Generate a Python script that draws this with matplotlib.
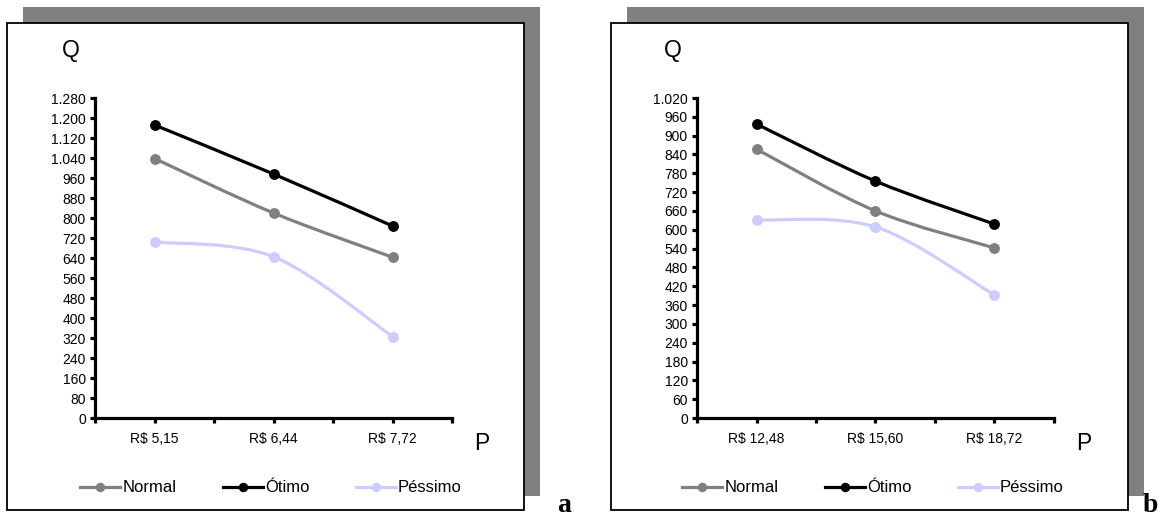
import numpy as np
import matplotlib
matplotlib.use("Agg")
import matplotlib.pyplot as plt
from matplotlib.path import Path
from matplotlib.patches import PathPatch, Rectangle
from matplotlib.lines import Line2D

plt.rcParams['font.family'] = ['Liberation Sans', 'DejaVu Sans']

# ---------------- data ----------------
series_names = ['Normal', 'Ótimo', 'Péssimo']

cats_a = ['R$ 5,15', 'R$ 6,44', 'R$ 7,72']
normal_a = [1038, 820, 643]
otimo_a = [1172, 976, 768]
pessimo_a = [704, 645, 326]
yticks_a = list(range(0, 1281, 80))

cats_b = ['R$ 12,48', 'R$ 15,60', 'R$ 18,72']
normal_b = [857, 660, 542]
otimo_b = [937, 755, 618]
pessimo_b = [631, 609, 392]
yticks_b = list(range(0, 1021, 60))

colors = ['#808080', '#000000', '#CCCCFF']

W, H = 1160, 518
fig = plt.figure(figsize=(W / 100, H / 100), dpi=100)


def fx(px):
    return px / W


def fy(py):
    return 1 - py / H


def smooth_path(xs, ys):
    """Excel-style smoothed line: cubic Bezier (Catmull-Rom, 1/6 tangents)."""
    pts = np.column_stack([xs, ys]).astype(float)
    n = len(pts)
    verts = [pts[0]]
    codes = [Path.MOVETO]
    for i in range(n - 1):
        p0 = pts[i - 1] if i > 0 else pts[i]
        p1 = pts[i]
        p2 = pts[i + 1]
        p3 = pts[i + 2] if i + 2 < n else pts[i + 1]
        c1 = p1 + (p2 - p0) / 6.0
        c2 = p2 - (p3 - p1) / 6.0
        verts += [c1, c2, p2]
        codes += [Path.CURVE4] * 3
    return Path(verts, codes)


def fmt(v):
    return f"{v:,}".replace(',', '.')


def panel(box_left, axis_left, cats, data, yticks, letter, letter_x):
    # shadow + white box
    box_top, box_bottom = 23, 510
    box_w = 517
    fig.patches.append(Rectangle((fx(box_left + 16), fy(box_bottom - 14)), box_w / W,
                                 (box_bottom - 14 - 7) / H, transform=fig.transFigure,
                                 facecolor='#808080', edgecolor='none', zorder=-10))
    fig.patches.append(Rectangle((fx(box_left), fy(box_bottom)), box_w / W,
                                 (box_bottom - box_top) / H, transform=fig.transFigure,
                                 facecolor='white', edgecolor='black', linewidth=1.3, zorder=-9))

    axis_right = axis_left + 357
    ax = fig.add_axes([fx(axis_left), fy(418), (axis_right - axis_left) / W, 320 / H])
    ax.set_facecolor('none')
    x = np.arange(len(cats))
    for vals, c in zip(data, colors):
        ax.add_patch(PathPatch(smooth_path(x, vals), facecolor='none', edgecolor=c,
                               linewidth=2.3, capstyle='round', joinstyle='round', zorder=2))
        ax.plot(x, vals, linestyle='none', marker='o', markersize=6.8, color=c, zorder=3)
    ax.set_xlim(-0.5, len(cats) - 0.5)
    ax.set_ylim(0, yticks[-1])
    ax.set_yticks(yticks)
    ax.set_yticklabels([fmt(v) for v in yticks])
    ax.set_xticks(x)
    ax.set_xticklabels(cats)
    ax.set_xticks(np.arange(-0.5, len(cats), 1.0), minor=True)
    for s in ['top', 'right']:
        ax.spines[s].set_visible(False)
    for s in ['left', 'bottom']:
        ax.spines[s].set_linewidth(2.3)
        ax.spines[s].set_color('black')
    ax.tick_params(axis='y', which='major', direction='out', length=3.5, width=2.3,
                   pad=3, labelsize=10)
    ax.tick_params(axis='x', which='both', direction='out', length=3.5, width=2.3,
                   pad=6.5, labelsize=10)

    fig.text(fx(axis_left - 24), fy(50), 'Q', fontsize=16.5, ha='center', va='center')
    fig.text(fx(axis_right + 30), fy(443), 'P', fontsize=16.5, ha='center', va='center')

    handles = [Line2D([], [], color=c, linewidth=2.3, marker='o', markersize=5.8)
               for c in colors]
    ax.legend(handles, series_names, ncol=3, loc='center',
              bbox_to_anchor=(fx(axis_left + 176), fy(488)), bbox_transform=fig.transFigure,
              frameon=False, fontsize=12, handlelength=2.4, handletextpad=0.12,
              columnspacing=2.8, borderpad=0, borderaxespad=0)

    fig.text(fx(letter_x), fy(518), letter, fontsize=20, fontweight='bold',
             family=['Liberation Serif', 'DejaVu Serif'], ha='center', va='bottom')
    return ax


panel(7, 95, cats_a, [normal_a, otimo_a, pessimo_a], yticks_a, 'a', 564)
panel(611, 697, cats_b, [normal_b, otimo_b, pessimo_b], yticks_b, 'b', 1150)

fig.savefig('out.png', dpi=100)
